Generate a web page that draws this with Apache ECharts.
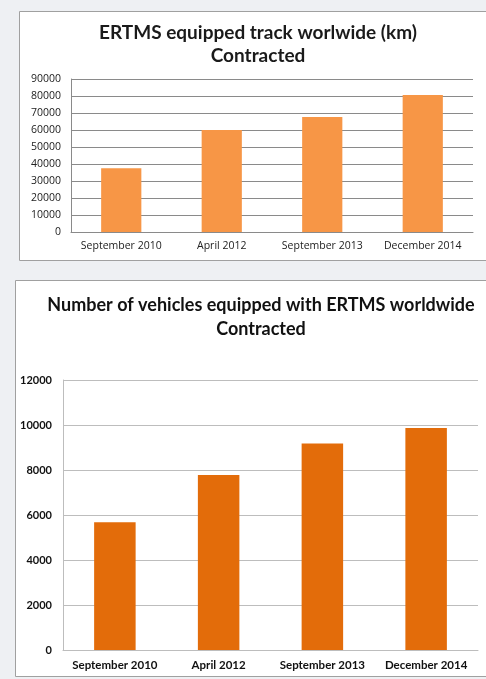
<!DOCTYPE html>
<html><head><meta charset="utf-8">
<script src="https://cdn.jsdelivr.net/npm/echarts@6/dist/echarts.min.js"></script>
<style>html,body{margin:0;padding:0;background:#eef0f3;}#c{width:486px;height:679px;}</style>
</head><body><div id="c"></div>
<script>
const categories = ['September 2010', 'April 2012', 'September 2013', 'December 2014'];
const trackKm = [37500, 60000, 67700, 80600];
const vehicles = [5680, 7780, 9180, 9870];
const title1 = 'ERTMS equipped track worlwide (km)\nContracted';
const title2 = 'Number of vehicles equipped with ERTMS worldwide\nContracted';

const chart = echarts.init(document.getElementById('c'), null, {renderer: 'canvas'});
const font = 'Lato, "Open Sans", sans-serif';
const plain = v => String(v);
chart.setOption({
  backgroundColor: '#eef0f3',
  animation: false,
  graphic: [
    {type: 'rect', shape: {x: 19.5, y: 11.5, width: 480, height: 249}, style: {fill: '#fff', stroke: '#a0a0a0', lineWidth: 1}, z: -10},
    {type: 'rect', shape: {x: 15.5, y: 280.5, width: 480, height: 396}, style: {fill: '#fff', stroke: '#a0a0a0', lineWidth: 1}, z: -10}
  ],
  title: [
    {text: title1, left: 253, top: 16, textAlign: 'center',
     textStyle: {fontFamily: font, fontSize: 19, fontWeight: 'bold', color: '#1a1a1a', lineHeight: 23}},
    {text: title2, left: 256, top: 288, textAlign: 'center',
     textStyle: {fontFamily: font, fontSize: 18, fontWeight: 'bold', color: '#111', lineHeight: 24}}
  ],
  grid: [
    {left: 71, right: 13, top: 79, bottom: 447},
    {left: 63, right: 8, top: 380, bottom: 29}
  ],
  xAxis: [
    {type: 'category', gridIndex: 0, data: categories,
     axisLine: {lineStyle: {color: '#8a8a8a'}}, axisTick: {show: false},
     axisLabel: {interval: 0, fontFamily: '"Open Sans", sans-serif', fontSize: 10.5, color: '#222', margin: 9}},
    {type: 'category', gridIndex: 1, data: categories,
     axisLine: {lineStyle: {color: '#bdbdbd'}}, axisTick: {show: false},
     axisLabel: {interval: 0, fontFamily: font, fontSize: 11.5, fontWeight: 'bold', color: '#111', margin: 9}}
  ],
  yAxis: [
    {type: 'value', gridIndex: 0, min: 0, max: 90000, interval: 10000,
     axisLine: {show: true, lineStyle: {color: '#8a8a8a'}}, axisTick: {show: false},
     splitLine: {lineStyle: {color: '#8a8a8a'}},
     axisLabel: {formatter: plain, fontFamily: '"Open Sans", sans-serif', fontSize: 10.5, color: '#222', margin: 10}},
    {type: 'value', gridIndex: 1, min: 0, max: 12000, interval: 2000,
     axisLine: {show: true, lineStyle: {color: '#bdbdbd'}}, axisTick: {show: false},
     splitLine: {lineStyle: {color: '#bdbdbd'}},
     axisLabel: {formatter: plain, fontFamily: font, fontSize: 11, fontWeight: 'bold', color: '#111', margin: 11}}
  ],
  series: [
    {type: 'bar', xAxisIndex: 0, yAxisIndex: 0, data: trackKm, barWidth: '40%', itemStyle: {color: '#f79646'}},
    {type: 'bar', xAxisIndex: 1, yAxisIndex: 1, data: vehicles, barWidth: '40%', itemStyle: {color: '#e36c0a'}}
  ]
});
</script></body></html>
